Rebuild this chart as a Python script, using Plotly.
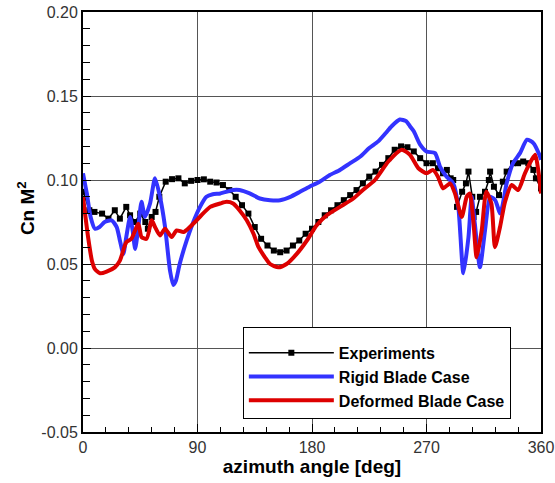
import plotly.graph_objects as go

# Experiments
exp_az = [0, 5, 9, 15, 20, 25, 29, 34, 37, 41, 45, 49, 51, 54, 57,
          60, 65, 70, 75, 80, 85, 90, 95, 100, 105, 110, 115, 120, 125, 130,
          135, 140, 145, 150, 155, 160, 165, 170, 175, 180, 185, 190, 195, 200,
          205, 210, 215, 220, 225, 230, 235, 240, 245, 250, 255, 260, 265, 270,
          275, 279, 283, 286, 289, 291, 294, 298, 301, 303, 306, 307, 309, 312,
          316, 319, 320, 323, 327, 330, 333, 338, 342, 346, 350, 354, 356, 360]
exp_cn = [0.093, 0.082, 0.081, 0.080, 0.077, 0.082, 0.077, 0.084, 0.079, 0.075,
          0.080, 0.075, 0.071, 0.078, 0.081,
          0.090, 0.099, 0.1005, 0.101, 0.098, 0.0995, 0.100, 0.1004, 0.099, 0.0985,
          0.097, 0.094, 0.090, 0.085, 0.080,
          0.072, 0.065, 0.061, 0.058, 0.057, 0.058, 0.061, 0.064, 0.068, 0.071,
          0.075, 0.079, 0.082, 0.085,
          0.088, 0.091, 0.094, 0.098, 0.102, 0.105, 0.109, 0.113, 0.118, 0.120,
          0.1195, 0.117, 0.113, 0.110,
          0.110, 0.107, 0.104, 0.106, 0.101, 0.100, 0.084, 0.093, 0.098, 0.105,
          0.090, 0.078, 0.081, 0.090,
          0.093, 0.100, 0.105, 0.096, 0.091, 0.099, 0.105, 0.110, 0.110, 0.111,
          0.110, 0.106, 0.101, 0.095]

# Rigid blade case
rigid_az = [0, 3, 6, 9.4, 13, 17, 22.5, 26.5, 29, 31.7, 34, 37, 39, 41, 43.5,
            46, 48.7, 52.7, 56.6, 60.5, 64.5, 68.4, 71, 73, 76, 81.5, 86.7, 92,
            97, 102, 108, 118, 123, 131, 139, 147, 155, 163, 170.6, 178, 186,
            194, 202, 210, 218, 225, 232, 238, 242.6, 249, 254, 257, 260, 265,
            270, 276.7, 280.6, 285.8, 291, 295, 299, 303, 305.5, 308, 312, 316,
            320, 324, 328, 333, 338, 343.5, 349, 354, 358.7, 360]
rigid_cn = [0.104, 0.092, 0.078, 0.071, 0.072, 0.075, 0.076, 0.072, 0.064, 0.056,
            0.066, 0.078, 0.070, 0.059, 0.072,
            0.087, 0.078, 0.086, 0.101, 0.090, 0.072, 0.046, 0.0375, 0.040, 0.050,
            0.064, 0.075, 0.084,
            0.090, 0.0915, 0.092, 0.094, 0.094, 0.092, 0.089, 0.088, 0.088, 0.090,
            0.093, 0.096, 0.099,
            0.103, 0.106, 0.110, 0.114, 0.119, 0.123, 0.128, 0.132, 0.136, 0.135,
            0.132, 0.129, 0.121,
            0.117, 0.116, 0.108, 0.102, 0.098, 0.084, 0.0445, 0.066, 0.090, 0.074,
            0.048, 0.070,
            0.090, 0.088, 0.080, 0.098, 0.110, 0.116, 0.124, 0.122, 0.115, 0.112]

# Deformed blade case
deformed_az = [0, 4, 7, 9.4, 13.4, 18.6, 25, 29, 34, 38, 43.5, 46, 50, 54, 56.6,
               60.5, 64.5, 69.7, 73.6, 79, 84, 88, 93, 100, 107.7, 113, 118, 123,
               128.7, 134, 138, 143, 147, 153.5, 160, 168, 176, 183.7, 191.6, 202,
               212.5, 220, 229.5, 240, 250.5, 257, 263.6, 270, 275, 279, 283,
               288.5, 292.4, 297.7, 301.6, 304, 307, 309.4, 313.4, 317, 321, 323.8,
               327.8, 331.7, 337, 342, 347.4, 352.7, 355.5, 358, 360]
deformed_cn = [0.090, 0.066, 0.052, 0.047, 0.0445, 0.0455, 0.048, 0.052, 0.063,
               0.065, 0.074, 0.066, 0.065, 0.076, 0.072,
               0.067, 0.071, 0.066, 0.070, 0.069, 0.072, 0.075, 0.079, 0.084, 0.086,
               0.087, 0.086, 0.082,
               0.076, 0.068, 0.060, 0.054, 0.050, 0.048, 0.050, 0.056, 0.064, 0.073,
               0.079, 0.084,
               0.089, 0.094, 0.100, 0.111, 0.118, 0.115, 0.107, 0.104, 0.106, 0.102,
               0.095,
               0.098, 0.092, 0.078, 0.090, 0.092, 0.074, 0.054, 0.070, 0.093, 0.086,
               0.060,
               0.072, 0.087, 0.097, 0.094, 0.104, 0.112, 0.115, 0.105, 0.092]

x_ticks = [0, 90, 180, 270, 360]
y_ticks = [-0.05, 0.00, 0.05, 0.10, 0.15, 0.20]
y_tick_labels = ["-0.05", "0.00", "0.05", "0.10", "0.15", "0.20"]

FONT = "Liberation Sans, Arial"

fig = go.Figure()
fig.add_trace(go.Scatter(x=exp_az, y=exp_cn, mode="lines+markers", name="Experiments",
                         line=dict(color="black", width=1.5),
                         marker=dict(symbol="square", size=6, color="black")))
fig.add_trace(go.Scatter(x=rigid_az, y=rigid_cn, mode="lines", name="Rigid Blade Case",
                         line=dict(color="#3333ff", width=4, shape="spline", smoothing=0.6)))
fig.add_trace(go.Scatter(x=deformed_az, y=deformed_cn, mode="lines", name="Deformed Blade Case",
                         line=dict(color="#dd0000", width=4, shape="spline", smoothing=0.6)))

axis_common = dict(showline=True, linecolor="black", linewidth=2, mirror=True,
                   ticks="inside", tickcolor="black", gridcolor="#555555", gridwidth=1,
                   zeroline=False, automargin=False,
                   tickfont=dict(family=FONT, size=16, color="#333333"))

fig.update_xaxes(range=[0, 360], tickvals=x_ticks, ticklen=8,
                 minor=dict(dtick=18, ticks="inside", ticklen=5, tickcolor="black", showgrid=False),
                 title=dict(text="<b>azimuth angle [deg]</b>", standoff=2,
                            font=dict(family=FONT, size=19, color="black")),
                 **axis_common)
fig.update_yaxes(range=[-0.05, 0.20], tickvals=y_ticks, ticktext=y_tick_labels, ticklen=8,
                 minor=dict(dtick=0.01, ticks="inside", ticklen=7, tickcolor="black", showgrid=False),
                 **axis_common)

fig.add_annotation(text="<b>Cn M<sup>2</sup></b>", xref="paper", yref="paper",
                   x=-0.1245, y=0.533, xanchor="center", yanchor="middle",
                   textangle=-90, showarrow=False,
                   font=dict(family=FONT, size=19, color="black"))

fig.update_layout(
    width=555, height=483,
    margin=dict(l=83, r=14, t=12, b=51),
    plot_bgcolor="white", paper_bgcolor="white",
    legend=dict(x=0.349, y=0.25, xanchor="left", yanchor="top",
                bgcolor="white", bordercolor="black", borderwidth=1,
                itemwidth=85,
                title=dict(text=" ", font=dict(size=6)),
                font=dict(family=FONT, size=16, color="black", weight="bold")),
)

fig.write_html("out.html", config={"displayModeBar": False},
               post_script="document.body.style.margin='0';document.body.style.padding='0';")
